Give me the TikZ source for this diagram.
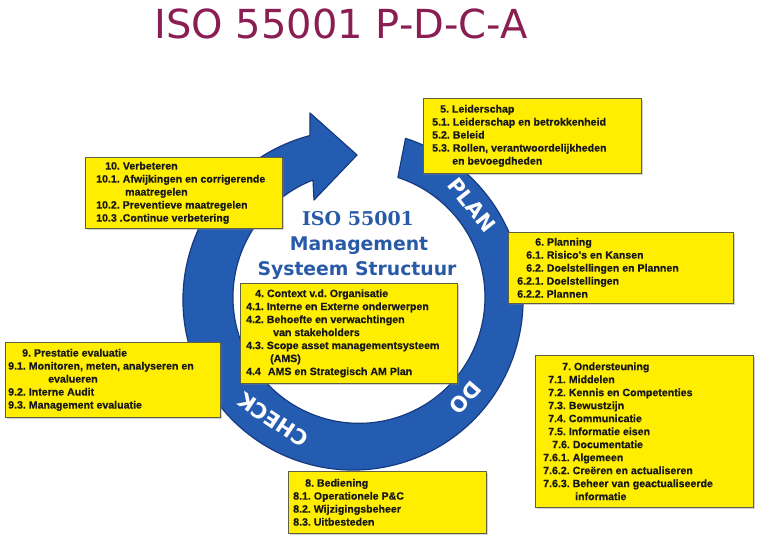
\documentclass[tikz,border=0pt]{standalone}
\usepackage{fontspec}
\setmainfont{Liberation Sans}
\newfontfamily\djsans{DejaVu Sans}
\newfontfamily\djserif{DejaVu Serif}
\newfontfamily\boxfont{Liberation Sans Bold}[FakeBold=0.6]
\usetikzlibrary{calc,shadows}
\definecolor{ringblue}{RGB}{36,92,178}
\definecolor{ringdark}{RGB}{22,58,128}
\definecolor{boxyellow}{RGB}{255,238,0}
\definecolor{boxedge}{RGB}{95,95,70}
\definecolor{titlecol}{RGB}{138,30,82}
\definecolor{centerblue}{RGB}{40,90,168}
\definecolor{boxtext}{RGB}{25,25,25}
\begin{document}
\begin{tikzpicture}[x=1pt,y=1pt,
  ybox/.style={draw=boxedge, line width=0.7pt, fill=boxyellow, anchor=north west,
    inner sep=0pt, drop shadow={shadow xshift=1.5pt, shadow yshift=-1.5pt, opacity=0.35}},
  ytext/.style={anchor=west, align=left, inner sep=0pt, text=boxtext,
    font=\normalfont\boxfont\fontsize{10.6}{13}\selectfont\frenchspacing},
  centertxt/.style={anchor=base, text=centerblue},
  ringlabel/.style={text=white, inner sep=0pt,
    font=\djsans\bfseries\fontsize{21}{21}\selectfont}
]
\useasboundingbox (0,0) rectangle (757,-547);
\fill[white] (0,0) rectangle (757,-547);

% title
\node[anchor=base, font=\djsans\fontsize{40}{40}\selectfont, text=titlecol] (title) at (341,-38.5) {ISO 55001 P-D-C-A};

% ring arrow
\coordinate (oc) at (353,-300);
\filldraw[fill=ringblue, draw=ringdark, line width=1.2pt, line join=round]
  ($(oc)+(72:170)$) arc[start angle=72, end angle=-255.3, radius=170]
  -- (310,-113) -- (357,-155) -- (314,-200) -- (313,-180)
  arc[start angle=-248.6, end angle=72, radius=126] -- cycle;

% ring labels
\node[ringlabel, rotate=-51.4] (plan) at ($(oc)+(38.6:152)$) {PLAN};
\node[ringlabel, rotate=-131] (do) at ($(oc)+(-41:149)$) {DO};
\node[ringlabel, rotate=-213.7] (check) at ($(oc)+(-123.7:144)$) {CHECK};

% centre title
\node[centertxt, font=\djserif\bfseries\fontsize{19}{19}\selectfont] (ct1) at (358,-225) {ISO 55001};
\node[centertxt, font=\djsans\bfseries\fontsize{18.8}{19}\selectfont] (ct2) at (359,-250) {Management};
\node[centertxt, font=\djsans\bfseries\fontsize{18.8}{19}\selectfont] (ct3) at (357,-275) {Systeem Structuur};

% boxes
\node[ybox, minimum width=218, minimum height=75] (b5) at (423,-98) {};
\node[ytext] (t5) at ([xshift=9]b5.west) {\hspace*{8pt}5. Leiderschap\\
5.1. Leiderschap en betrokkenheid\\
5.2. Beleid\\
5.3. Rollen, verantwoordelijkheden\\
\hspace*{20pt}en bevoegdheden};

\node[ybox, minimum width=197, minimum height=71] (b10) at (85,-157) {};
\node[ytext] (t10) at ([xshift=11]b10.west) {\hspace*{9pt}10. Verbeteren\\
10.1. Afwijkingen en corrigerende\\
\hspace*{29pt}maatregelen\\
10.2. Preventieve maatregelen\\
10.3 .Continue verbetering};

\node[ybox, minimum width=225, minimum height=71] (b6) at (508,-232) {};
\node[ytext] (t6) at ([xshift=9]b6.west) {\hspace*{18pt}6. Planning\\
\hspace*{9pt}6.1. Risico's en Kansen\\
\hspace*{9pt}6.2. Doelstellingen en Plannen\\
6.2.1. Doelstellingen\\
6.2.2. Plannen};

\node[ybox, minimum width=217, minimum height=100] (b4) at (240,-283) {};
\node[ytext] (t4) at ([xshift=6]b4.west) {\hspace*{9pt}4. Context v.d. Organisatie\\
4.1. Interne en Externe onderwerpen\\
4.2. Behoefte en verwachtingen\\
\hspace*{27pt}van stakeholders\\
4.3. Scope asset managementsysteem\\
\hspace*{24pt}(AMS)\\
4.4\hspace*{7pt}AMS en Strategisch AM Plan};

\node[ybox, minimum width=215, minimum height=75] (b9) at (5,-342) {};
\node[ytext] (t9) at ([xshift=3]b9.west) {\hspace*{14pt}9. Prestatie evaluatie\\
9.1. Monitoren, meten, analyseren en\\
\hspace*{40pt}evalueren\\
9.2. Interne Audit\\
9.3. Management evaluatie};

\node[ybox, minimum width=218, minimum height=152] (b7) at (535,-355) {};
\node[ytext] (t7) at ([xshift=8]b7.west) {\hspace*{19pt}7. Ondersteuning\\
\hspace*{5pt}7.1. Middelen\\
\hspace*{5pt}7.2. Kennis en Competenties\\
\hspace*{5pt}7.3. Bewustzijn\\
\hspace*{5pt}7.4. Communicatie\\
\hspace*{5pt}7.5. Informatie eisen\\
\hspace*{9pt}7.6. Documentatie\\
7.6.1. Algemeen\\
7.6.2. Creëren en actualiseren\\
7.6.3. Beheer van geactualiseerde\\
\hspace*{32pt}informatie};

\node[ybox, minimum width=198, minimum height=62] (b8) at (288,-471) {};
\node[ytext] (t8) at ([xshift=5]b8.west) {\hspace*{12pt}8. Bediening\\
8.1. Operationele P\&C\\
8.2. Wijzigingsbeheer\\
8.3. Uitbesteden};
\end{tikzpicture}
\end{document}
